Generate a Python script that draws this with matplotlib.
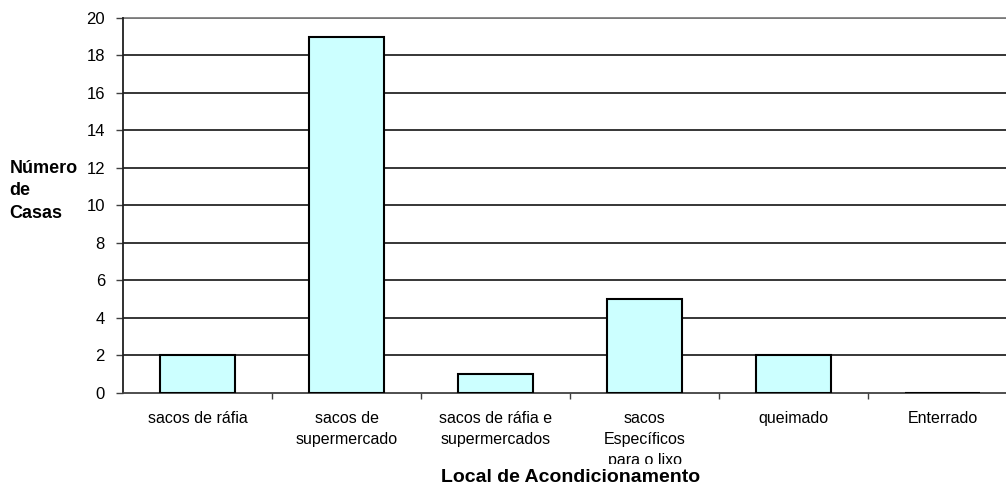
import matplotlib
matplotlib.use("Agg")
import matplotlib.pyplot as plt
from matplotlib.transforms import Bbox, TransformedBbox
import numpy as np

categories = ["sacos de ráfia", "sacos de\nsupermercado", "sacos de ráfia e\nsupermercados",
              "sacos\nEspecíficos\npara o lixo", "queimado", "Enterrado"]
values = [2, 19, 1, 5, 2, 0]
yticks = list(range(0, 21, 2))

plt.rcParams['font.family'] = ['Liberation Sans', 'DejaVu Sans']

fig = plt.figure(figsize=(10.06, 4.86), dpi=100)
ax = fig.add_axes([0.1223, 0.1914, 0.8887, 0.7716])

x = np.arange(len(categories))
ax.bar(x, values, width=0.5, color='#CCFFFF', edgecolor='black', linewidth=1.5, zorder=3)

ax.set_xlim(-0.5, len(categories) - 0.5)
ax.set_ylim(0, 20)
ax.set_yticks(yticks)
ax.set_yticklabels([str(v) for v in yticks], fontsize=12)
for y in yticks[1:]:
    ax.axhline(y, color='black', linewidth=1.1, zorder=1)

ax.set_xticks(x)
labels = ax.set_xticklabels(categories, fontsize=11.5, linespacing=1.5)
ax.tick_params(axis='x', which='major', length=0, pad=13)
ax.set_xticks(np.arange(0.5, len(categories) - 0.5, 1), minor=True)
ax.tick_params(axis='x', which='minor', length=4, color='#404040', width=1)
ax.tick_params(axis='y', length=5, width=1, color='#404040', pad=8)

clip = TransformedBbox(Bbox([[0, 22.5 / 486], [1, 1]]), fig.transFigure)
for lbl in labels:
    lbl.set_clip_box(clip)
    lbl.set_clip_on(True)

for s in ['top', 'right']:
    ax.spines[s].set_visible(False)
ax.spines['left'].set_color('#202020')
ax.spines['left'].set_linewidth(1.3)
ax.spines['bottom'].set_color('#404040')
ax.spines['bottom'].set_linewidth(1.3)
ax.axhline(20, color='#808080', linewidth=1.3, zorder=1, clip_on=False)

fig.text(0.0095, 0.607, "Número\nde\nCasas", fontsize=13, fontweight='bold',
         ha='left', va='center', linespacing=1.45)
fig.text(0.567, 0.0175, "Local de Acondicionamento", fontsize=14, fontweight='bold',
         ha='center', va='center')

fig.savefig("out.png", dpi=100)
